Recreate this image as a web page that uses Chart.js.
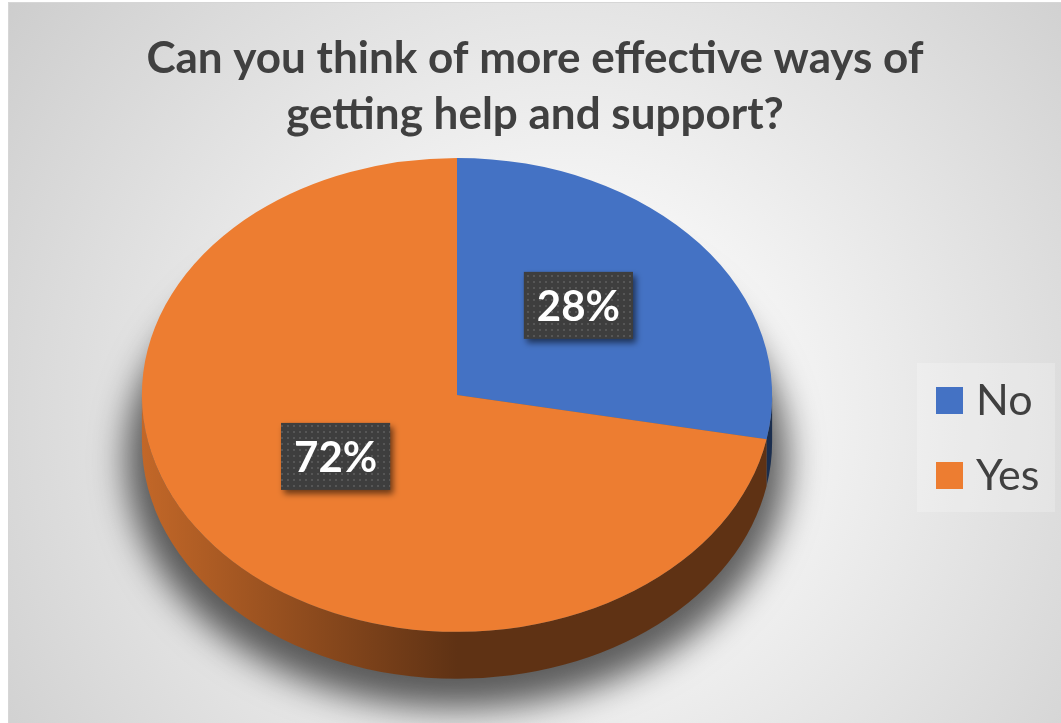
<!DOCTYPE html>
<html lang="en">
<head>
    <meta charset="UTF-8">
    <meta name="viewport" content="width=device-width, initial-scale=1.0">
    <title>Can you think of more effective ways of getting help and support?</title>
    <script src="https://cdn.jsdelivr.net/npm/chart.js"></script>
</head>
<style>
    body {
        margin: 0;
        background: #fff;
    }
    .frame {
        position: absolute;
        left: 8px;
        top: 2px;
        width: 1052px;
        height: 720px;
        border-top: 1px solid #d6d6d6;
        border-left: 1px solid #d6d6d6;
        background: radial-gradient(circle at 53% 57%, #ffffff 0, #f6f6f6 190px, #cbcbcb 720px);
    }
    canvas {
        display: block;
    }
</style>
<body>
    <div class="frame">
        <canvas id="myChart"></canvas>
    </div>

    <script>
        const labels = ['No', 'Yes'];
        const shares = [28, 72]; // percent of answers

        const TILT = 0.752;     // how flat the disc looks (cos of viewing angle)
        const DEPTH = 47;       // thickness of the disc, px
        const LABEL_LIFT = 14;  // tags sit a little toward the back of the disc

        Chart.defaults.font.family = 'Lato';

        // darker copy of a hex colour, used for the side wall
        function shade(hex, k) {
            const n = parseInt(hex.slice(1), 16);
            const r = Math.round(((n >> 16) & 255) * k);
            const g = Math.round(((n >> 8) & 255) * k);
            const b = Math.round((n & 255) * k);
            return `rgb(${r},${g},${b})`;
        }

        // small dotted tile for the label boxes
        function dotTexture(ctx) {
            const tile = document.createElement('canvas');
            tile.width = tile.height = 6;
            const g = tile.getContext('2d');
            g.fillStyle = '#3e3e3e';
            g.fillRect(0, 0, 6, 6);
            g.fillStyle = '#565656';
            g.fillRect(2, 2, 2, 2);
            return ctx.createPattern(tile, 'repeat');
        }

        // squash the pie into an ellipse and give it a side wall + shadow
        const pie3d = {
            id: 'pie3d',
            beforeDatasetsDraw(chart) {
                const ctx = chart.ctx;
                const arcs = chart.getDatasetMeta(0).data;
                const colors = chart.data.datasets[0].backgroundColor;
                const { x: cx, y: cy, outerRadius: r } = arcs[0];
                const dd = DEPTH / TILT;
                const away = 10000;

                ctx.save();
                ctx.translate(0, cy);
                ctx.scale(1, TILT);
                ctx.translate(0, -cy);

                // soft shadow on the floor: the disc is drawn off-canvas,
                // only its shadow lands under the pie
                ctx.save();
                ctx.shadowColor = 'rgba(0, 0, 0, 0.62)';
                ctx.shadowBlur = 34;
                ctx.shadowOffsetX = -away;
                ctx.shadowOffsetY = 18;
                ctx.fillStyle = '#000';
                ctx.beginPath();
                ctx.arc(cx + away, cy + dd, r * 1.05, 0, Math.PI * 2);
                ctx.fill();
                ctx.restore();

                // side wall, only the front half shows
                arcs.forEach((arc, i) => {
                    const a0 = Math.max(arc.startAngle, 0);
                    const a1 = Math.min(arc.endAngle, Math.PI);
                    if (a1 <= a0) return;
                    const grad = ctx.createLinearGradient(cx - r, 0, cx + r, 0);
                    grad.addColorStop(0, shade(colors[i], 0.82));
                    grad.addColorStop(0.5, shade(colors[i], 0.4));
                    grad.addColorStop(1, shade(colors[i], 0.4));
                    ctx.fillStyle = grad;
                    ctx.beginPath();
                    ctx.arc(cx, cy, r, a0, a1);
                    ctx.arc(cx, cy + dd, r, a1, a0, true);
                    ctx.closePath();
                    ctx.fill();
                });
                // the top face is drawn by Chart.js with this transform still active
            },
            afterDatasetsDraw(chart) {
                chart.ctx.restore();
            }
        };

        // percentage tags on dark dotted boxes
        const valueTags = {
            id: 'valueTags',
            afterDatasetsDraw(chart) {
                const ctx = chart.ctx;
                const arcs = chart.getDatasetMeta(0).data;
                const cy = arcs[0].y;
                const fill = dotTexture(ctx);
                ctx.save();
                ctx.font = 'bold 42px Lato';
                ctx.textAlign = 'center';
                ctx.textBaseline = 'middle';
                arcs.forEach((arc, i) => {
                    const p = arc.tooltipPosition();
                    const x = p.x;
                    const y = cy + (p.y - cy) * TILT - LABEL_LIFT;
                    const text = shares[i] + '%';
                    const w = ctx.measureText(text).width + 26;
                    const h = 67;
                    ctx.save();
                    ctx.shadowColor = 'rgba(0, 0, 0, 0.55)';
                    ctx.shadowBlur = 6;
                    ctx.shadowOffsetX = 3;
                    ctx.shadowOffsetY = 4;
                    ctx.fillStyle = fill;
                    ctx.fillRect(x - w / 2, y - h / 2, w, h);
                    ctx.restore();
                    ctx.fillStyle = '#ffffff';
                    ctx.fillText(text, x, y + 2);
                });
                ctx.restore();
            }
        };

        // legend column on the right; it takes its own slot in the layout
        const sideLegend = {
            id: 'sideLegend',
            beforeInit(chart) {
                Chart.layouts.addBox(chart, {
                    position: 'right',
                    weight: 10,
                    fullSize: false,
                    options: {},
                    isHorizontal() { return false; },
                    update(maxWidth, maxHeight) {
                        this.width = 156;
                        this.height = maxHeight;
                    },
                    draw() {
                        const ctx = chart.ctx;
                        const colors = chart.data.datasets[0].backgroundColor;
                        const left = this.left + 12;
                        const top = 360;
                        ctx.save();
                        ctx.fillStyle = 'rgba(255, 255, 255, 0.22)';
                        ctx.fillRect(left, top, 138, 149);
                        ctx.font = '43px Lato';
                        ctx.textBaseline = 'middle';
                        chart.data.labels.forEach((label, i) => {
                            const y = top + 37 + i * 75;
                            ctx.fillStyle = colors[i];
                            ctx.fillRect(left + 19, y - 13, 27, 27);
                            ctx.fillStyle = '#404040';
                            ctx.fillText(label, left + 59, y + 1);
                        });
                        ctx.restore();
                    }
                });
            }
        };

        const ctx = document.getElementById('myChart').getContext('2d');
        new Chart(ctx, {
            type: 'pie',
            data: {
                labels: labels,
                datasets: [{
                    data: shares,
                    backgroundColor: ['#4472C4', '#ED7D31'],
                    borderWidth: 0,
                    hoverBorderWidth: 0,
                    hoverOffset: 0
                }]
            },
            options: {
                responsive: true,
                maintainAspectRatio: false,
                animation: false,
                events: [],
                layout: {
                    padding: { left: 0, right: 0, top: 0, bottom: 13 }
                },
                plugins: {
                    legend: { display: false },
                    tooltip: { enabled: false },
                    title: {
                        display: true,
                        text: ['Can you think of more effective ways of', 'getting help and support?'],
                        color: '#404040',
                        font: { size: 44, weight: 'bold', lineHeight: 1.27 },
                        padding: { top: 28, bottom: -63 }
                    }
                }
            },
            plugins: [pie3d, valueTags, sideLegend]
        });
    </script>
</body>
</html>
